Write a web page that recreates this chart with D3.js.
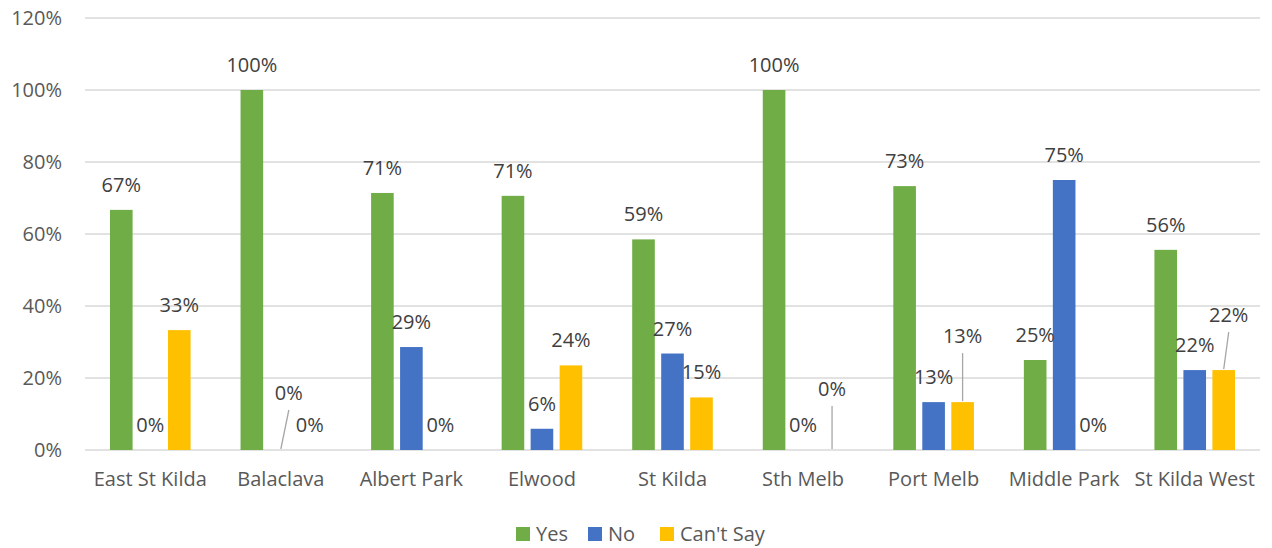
<!DOCTYPE html>
<html>
<head>
<meta charset="utf-8">
<script src="https://cdn.jsdelivr.net/npm/d3@7"></script>
<style>
  body { margin: 0; background: #fff; }
  svg { display: block; font-family: "Open Sans", sans-serif; }
</style>
</head>
<body>
<svg width="1272" height="548"></svg>
<script>
const suburbs = ['East St Kilda', 'Balaclava', 'Albert Park', 'Elwood', 'St Kilda',
                 'Sth Melb', 'Port Melb', 'Middle Park', 'St Kilda West'];
const seriesNames = ['Yes', 'No', "Can't Say"];
const yes     = [0.667, 1.0, 0.714, 0.706, 0.585, 1.0, 0.733, 0.25, 0.556];
const no      = [0.0,   0.0, 0.286, 0.059, 0.268, 0.0, 0.133, 0.75, 0.222];
const cantSay = [0.333, 0.0, 0.0,   0.235, 0.146, 0.0, 0.133, 0.0,  0.222];
const yTicks = [0, 0.2, 0.4, 0.6, 0.8, 1.0, 1.2];

const colors = ['#70AD47', '#4472C4', '#FFC000'];

// labels that Excel pushed off the bar, with a leader line (suburb index, series index, dx, dy)
const movedLabels = [
    { cat: 1, s: 1, dx: 8, dy: -32 },
    { cat: 5, s: 2, dx: 0, dy: -36 },
    { cat: 6, s: 2, dx: 0, dy: -41 },
    { cat: 8, s: 2, dx: 5, dy: -30 }
];

const allSeries = [yes, no, cantSay];
const rows = [];
suburbs.forEach(function (name, i) {
    allSeries.forEach(function (arr, s) {
        rows.push({ cat: i, name: name, s: s, value: arr[i] });
    });
});

const svg = d3.select('svg');
const plotLeft = 85, plotRight = 1260, plotTop = 18, plotBottom = 450;

const y = d3.scaleLinear().domain([0, 1.2]).range([plotBottom, plotTop]);
const x0 = d3.scaleBand().domain(suburbs).range([plotLeft, plotRight]);
const groupW = 80.6;
const x1 = d3.scaleBand().domain(d3.range(3)).range([0, groupW]).paddingInner(0.22);
const groupOff = (x0.bandwidth() - groupW) / 2;

function barX(d) { return x0(d.name) + groupOff + x1(d.s); }
function barCx(d) { return barX(d) + x1.bandwidth() / 2; }

// gridlines
svg.append('g')
    .selectAll('line')
    .data(yTicks)
    .enter().append('line')
    .attr('x1', plotLeft)
    .attr('x2', plotRight)
    .attr('y1', function (d) { return y(d); })
    .attr('y2', function (d) { return y(d); })
    .attr('stroke', '#d9d9d9')
    .attr('stroke-width', 1.3);

// y axis labels
const yAxis = svg.append('g')
    .attr('transform', 'translate(' + (plotLeft - 23) + ',0)')
    .call(d3.axisLeft(y).tickValues(yTicks).tickFormat(d3.format('.0%')).tickSize(0).tickPadding(0));
yAxis.select('.domain').remove();
yAxis.selectAll('text')
    .attr('font-family', '"Open Sans", sans-serif')
    .attr('font-size', '20px')
    .attr('fill', '#595959');

// x axis labels
const xAxis = svg.append('g')
    .attr('transform', 'translate(0,' + plotBottom + ')')
    .call(d3.axisBottom(x0).tickSize(0).tickPadding(22));
xAxis.select('.domain').remove();
xAxis.selectAll('text')
    .attr('font-family', '"Open Sans", sans-serif')
    .attr('font-size', '20px')
    .attr('fill', '#595959');

// bars
svg.append('g')
    .selectAll('rect')
    .data(rows)
    .enter().append('rect')
    .attr('x', barX)
    .attr('width', x1.bandwidth())
    .attr('y', function (d) { return y(d.value); })
    .attr('height', function (d) { return plotBottom - y(d.value); })
    .attr('fill', function (d) { return colors[d.s]; });

// data labels
function moveOf(d) {
    return movedLabels.find(function (m) { return m.cat === d.cat && m.s === d.s; });
}
function labelX(d) { const m = moveOf(d); return barCx(d) + (m ? m.dx : 0); }
function labelY(d) { const m = moveOf(d); return y(d.value) - 25 + (m ? m.dy : 0); }

svg.append('g')
    .selectAll('line')
    .data(rows.filter(function (d) { return moveOf(d); }))
    .enter().append('line')
    .attr('x1', barCx)
    .attr('y1', function (d) { return y(d.value) - 1; })
    .attr('x2', labelX)
    .attr('y2', function (d) { return labelY(d) + 17; })
    .attr('stroke', '#a6a6a6')
    .attr('stroke-width', 1.3);

svg.append('g')
    .selectAll('text')
    .data(rows)
    .enter().append('text')
    .attr('x', labelX)
    .attr('y', labelY)
    .attr('dy', '0.35em')
    .attr('text-anchor', 'middle')
    .attr('font-size', '20px')
    .attr('fill', '#404040')
    .text(function (d) { return d3.format('.0%')(d.value); });

// legend
const legendX = [516, 588, 660];
const legend = svg.append('g')
    .selectAll('g')
    .data(seriesNames)
    .enter().append('g')
    .attr('transform', function (d, i) { return 'translate(' + legendX[i] + ',527)'; });
legend.append('rect')
    .attr('width', 14)
    .attr('height', 14)
    .attr('fill', function (d, i) { return colors[i]; });
legend.append('text')
    .attr('x', 20)
    .attr('y', 7)
    .attr('dy', '0.35em')
    .attr('font-size', '20px')
    .attr('fill', '#595959')
    .text(function (d) { return d; });
</script>
</body>
</html>
